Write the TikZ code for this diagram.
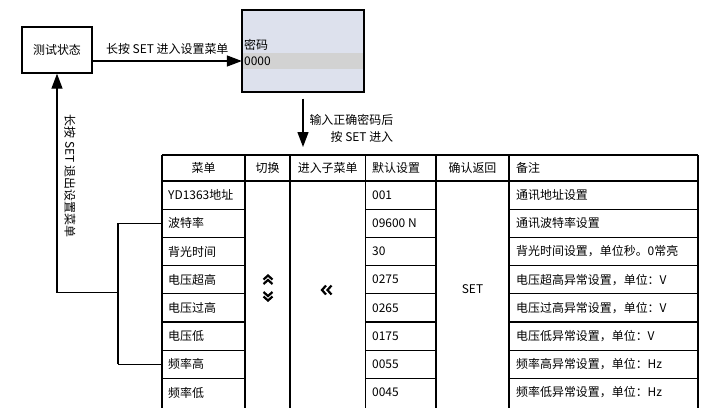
\documentclass[tikz,border=0pt]{standalone}
\usepackage{fontspec}
\setmainfont{Noto Sans CJK SC}
\usepackage{xcolor}
\usetikzlibrary{arrows.meta, positioning}

\definecolor{screenbg}{HTML}{DDE1ED}
\definecolor{bandbg}{HTML}{D2D2D2}

\tikzset{
	state/.style={draw, line width=1.3bp, minimum width=70bp, minimum height=46bp},
	conn/.style={->, line width=1.3bp},
	grid/.style={line width=1.1bp},
	chev/.style={line width=2.2bp, miter limit=4},
	cell/.style={anchor=west, inner sep=0pt},
	head/.style={inner sep=0pt},
}

\begin{document}
\begin{tikzpicture}[x=1bp, y=-1bp, >={Triangle[length=15bp, width=11bp]}, font=\fontsize{12}{17}\selectfont]
	\useasboundingbox (0,0) rectangle (704,408);

	\node[state] (test) at (57,50) {测试状态};
	\node[state, fill=screenbg, minimum width=121bp, minimum height=82bp] (pwd) at (303,51) {};
	\fill[bandbg] (243,53) rectangle (363,69);
	\draw[line width=1.3bp] (pwd.south west) rectangle (pwd.north east);
	\node[cell] (pwdtext) at (244,45) {密码};
	\node[cell] (code) at (244,61) {0000};

	\coordinate (top) at (162,155);
	\coordinate (b1) at (118,223.3);
	\coordinate (b2) at (118,364.3);
	\coordinate (bk) at (118,292.5);

	\draw[conn] (test.east |- code) -- (pwd.west |- code) node[midway, above=3bp] (enter) {长按 SET 进入设置菜单};
	\draw[conn, shorten <=6bp, shorten >=8bp] (pwd.south) -- (pwd.south |- top);
	\node[align=right, anchor=west] (ok) at (306,128) {输入正确密码后\\按 SET 进入};
	\draw[conn] (bk) -| (test.south);
	\node[rotate=-90] (back) at (70,176) {长按 SET 退出设置菜单};
	\draw[grid] (b1) -- (b2);
	\draw[grid] (b1) -- (b1 -| top);
	\draw[grid] (b2) -- (b2 -| top);

	% table
	\draw[grid] (162,155) -- (698,155);
	\draw[grid] (162,181) -- (698,181);
	\draw[grid] (162,155) -- (162,408);
	\draw[grid] (245,155) -- (245,408);
	\draw[grid] (290,155) -- (290,408);
	\draw[grid] (365.5,155) -- (365.5,408);
	\draw[grid] (436,155) -- (436,408);
	\draw[grid] (509,155) -- (509,408);
	\draw[grid] (698,155) -- (698,408);

	\draw[grid] (162,209.2) -- (245,209.2) (365.5,209.2) -- (436,209.2) (509,209.2) -- (698,209.2);
	\draw[grid] (162,237.4) -- (245,237.4) (365.5,237.4) -- (436,237.4) (509,237.4) -- (698,237.4);
	\draw[grid] (162,265.6) -- (245,265.6) (365.5,265.6) -- (436,265.6) (509,265.6) -- (698,265.6);
	\draw[grid] (162,293.8) -- (245,293.8) (365.5,293.8) -- (436,293.8) (509,293.8) -- (698,293.8);
	\draw[grid] (162,322.0) -- (245,322.0) (365.5,322.0) -- (436,322.0) (509,322.0) -- (698,322.0);
	\draw[grid] (162,350.2) -- (245,350.2) (365.5,350.2) -- (436,350.2) (509,350.2) -- (698,350.2);
	\draw[grid] (162,378.4) -- (245,378.4) (365.5,378.4) -- (436,378.4) (509,378.4) -- (698,378.4);

	\node[head] (h1) at (203.5,168) {菜单};
	\node[head] (h2) at (267.5,168) {切换};
	\node[head] (h3) at (327.7,168) {进入子菜单};
	\node[cell] (h4) at (372,168) {默认设置};
	\node[head] (h5) at (472.5,168) {确认返回};
	\node[cell] (h6) at (516,168) {备注};

	\node[cell] (m1) at (168,195.1) {YD1363地址};
	\node[cell] (m2) at (168,223.3) {波特率};
	\node[cell] (m3) at (168,251.5) {背光时间};
	\node[cell] (m4) at (168,279.7) {电压超高};
	\node[cell] (m5) at (168,307.9) {电压过高};
	\node[cell] (m6) at (168,336.1) {电压低};
	\node[cell] (m7) at (168,364.3) {频率高};
	\node[cell] (m8) at (168,392.5) {频率低};

	\node[cell] (d1) at (372,195.1) {001};
	\node[cell] (d2) at (372,223.3) {09600 N};
	\node[cell] (d3) at (372,251.5) {30};
	\node[cell] (d4) at (372,279.7) {0275};
	\node[cell] (d5) at (372,307.9) {0265};
	\node[cell] (d6) at (372,336.1) {0175};
	\node[cell] (d7) at (372,364.3) {0055};
	\node[cell] (d8) at (372,392.5) {0045};

	\node[cell] (n1) at (516,195.1) {通讯地址设置};
	\node[cell] (n2) at (516,223.3) {通讯波特率设置};
	\node[cell] (n3) at (516,251.5) {背光时间设置，单位秒。0常亮};
	\node[cell] (n4) at (516,279.7) {电压超高异常设置，单位：V};
	\node[cell] (n5) at (516,307.9) {电压过高异常设置，单位：V};
	\node[cell] (n6) at (516,336.1) {电压低异常设置，单位：V};
	\node[cell] (n7) at (516,364.3) {频率高异常设置，单位：Hz};
	\node[cell] (n8) at (516,392.5) {频率低异常设置，单位：Hz};

	\node[head] (confirm) at (472.5,289) {SET};

	% keys
	\draw[chev] (263.5,279.5) -- (268,275.5) -- (272.5,279.5);
	\draw[chev] (263.5,284) -- (268,280) -- (272.5,284);
	\draw[chev] (263.5,292) -- (268,296) -- (272.5,292);
	\draw[chev] (263.5,296.5) -- (268,300.5) -- (272.5,296.5);
	\draw[chev] (326,285.5) -- (322,290) -- (326,294.5);
	\draw[chev] (331.5,285.5) -- (327.5,290) -- (331.5,294.5);
\end{tikzpicture}
\end{document}
